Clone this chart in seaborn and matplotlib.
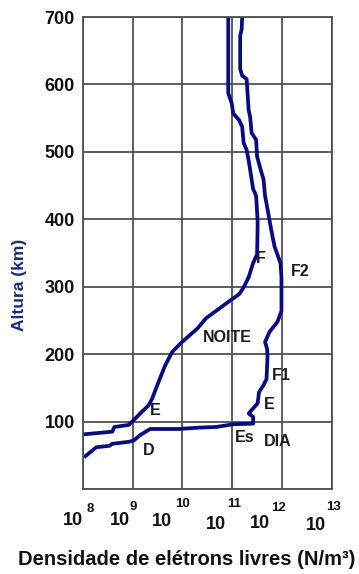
import numpy as np
import pandas as pd
import matplotlib
matplotlib.use("Agg")
import matplotlib.pyplot as plt
import seaborn as sns
from matplotlib.ticker import NullLocator
from matplotlib.transforms import blended_transform_factory, ScaledTranslation

# Electron density profiles of the ionosphere (log10 of N/m^3 vs altitude in km)
night_log10_density = [8.00, 8.59, 8.63, 8.92, 8.99, 9.19, 9.32, 9.39, 9.52, 9.65,
                       9.79, 9.99, 10.30, 10.47, 10.95, 11.14, 11.23, 11.33, 11.42, 11.50,
                       11.51, 11.51, 11.48, 11.42, 11.38, 11.34, 11.29, 11.23, 11.20, 11.14,
                       11.02, 10.99, 10.92, 10.92]
night_altitude = [81, 85, 92, 95, 100, 115, 124, 134, 159, 183,
                  203, 218, 238, 253, 279, 289, 299, 314, 335, 348,
                  386, 399, 435, 445, 464, 483, 503, 513, 537, 547,
                  557, 572, 587, 700]

day_log10_density = [8.02, 8.27, 8.53, 8.59, 8.92, 9.02, 9.15, 9.35, 9.92, 10.33,
                     10.68, 11.02, 11.42, 11.42, 11.33, 11.39, 11.51, 11.54, 11.63, 11.69,
                     11.71, 11.70, 11.66, 11.75, 11.91, 11.99, 11.99, 11.97, 11.85, 11.78,
                     11.72, 11.66, 11.63, 11.57, 11.50, 11.48, 11.39, 11.36, 11.33, 11.29,
                     11.20, 11.16, 11.16, 11.19, 11.20]
day_altitude = [47, 62, 64, 67, 70, 72, 80, 89, 89, 91,
                92, 96, 97, 107, 112, 117, 127, 144, 154, 163,
                198, 208, 218, 233, 248, 264, 314, 335, 360, 386,
                411, 435, 459, 474, 493, 518, 528, 552, 562, 608,
                613, 623, 672, 682, 700]

# Layer / regime labels placed on the profiles
region_labels = ["F", "F2", "NOITE", "F1", "E", "Es", "DIA", "E", "D"]
region_log10_density = [11.57, 12.36, 10.90, 11.99, 11.75, 11.26, 11.91, 9.45, 9.32]
region_altitude = [342, 322, 225, 168, 125, 77, 70, 117, 57]

# Axis ticks
x_exponents = [8, 9, 10, 11, 12, 13]
y_ticks = [0, 100, 200, 300, 400, 500, 600, 700]
y_tick_labels = ["", "100", "200", "300", "400", "500", "600", "700"]

CURVE = "#0a0a82"
GRID = "#505050"
NAVY = "#1b2a78"

sns.set_style("white")
plt.rcParams["font.family"] = ["Liberation Sans", "DejaVu Sans"]

night = pd.DataFrame({"density": 10.0 ** np.array(night_log10_density),
                      "altitude": night_altitude})
day = pd.DataFrame({"density": 10.0 ** np.array(day_log10_density),
                    "altitude": day_altitude})

fig = plt.figure(figsize=(3.59, 5.74), dpi=100)
ax = fig.add_axes([83 / 359, 85 / 574, 248.7 / 359, 472 / 574])
ax.set_xscale("log")

for frame in (night, day):
    sns.lineplot(data=frame, x="density", y="altitude", sort=False, estimator=None,
                 color=CURVE, lw=2.7, ax=ax, solid_joinstyle="round",
                 solid_capstyle="butt")

ax.set_xlim(1e8, 1e13)
ax.set_ylim(0, 700)
ax.set_xticks(10.0 ** np.array(x_exponents))
ax.xaxis.set_minor_locator(NullLocator())
ax.set_xticklabels([])
ax.set_yticks(y_ticks)
ax.set_yticklabels(y_tick_labels)
ax.set_xlabel("")
ax.set_ylabel("")
ax.set_axisbelow(True)
ax.grid(True, color=GRID, lw=1.3)
ax.tick_params(axis="x", length=0)
ax.tick_params(axis="y", length=0, pad=6, labelsize=13, labelcolor="#111111")
for lab in ax.get_yticklabels():
    lab.set_fontweight("bold")
for sp in ax.spines.values():
    sp.set_color(GRID)
    sp.set_linewidth(1.3)

# Power-of-ten tick labels: base "10" with a raised exponent
base_dx = [0, -3, -10.5, -6, -11.5, -6]
base_dy = [-22.7, -22.7, -24, -27, -26, -27.7]
exp_dx = [3.3, -3, -7.3, -5, -11, -6]
exp_dy = [-13.7, -11.7, -9, -9, -12.7, -11.7]
blend = blended_transform_factory(ax.transData, ax.transAxes)
for k, bx, by, ex, ey in zip(x_exponents, base_dx, base_dy, exp_dx, exp_dy):
    t_base = blend + ScaledTranslation(bx / 100, by / 100, fig.dpi_scale_trans)
    t_exp = blend + ScaledTranslation(ex / 100, ey / 100, fig.dpi_scale_trans)
    ax.text(10.0 ** k, 0, "10", transform=t_base, ha="right", va="top",
            fontsize=13, fontweight="bold", color="#111111", clip_on=False)
    ax.text(10.0 ** k, 0, str(k), transform=t_exp, ha="left", va="top",
            fontsize=9.5, fontweight="bold", color="#111111", clip_on=False)

for name, lx, ly in zip(region_labels, region_log10_density, region_altitude):
    ax.text(10.0 ** lx, ly, name, ha="center", va="center", fontsize=11.5,
            fontweight="bold", color="#1a1a1a")

fig.text(19.7 / 359, 1 - 285 / 574, "Altura (km)", rotation=90, ha="center",
         va="center", fontsize=12.5, fontweight="bold", color=NAVY)
fig.text(187 / 359, 1 - 565 / 574, "Densidade de elétrons livres (N/m³)",
         ha="center", va="baseline", fontsize=14.5, fontweight="bold", color="#111111")

fig.savefig("out.png", dpi=100)
